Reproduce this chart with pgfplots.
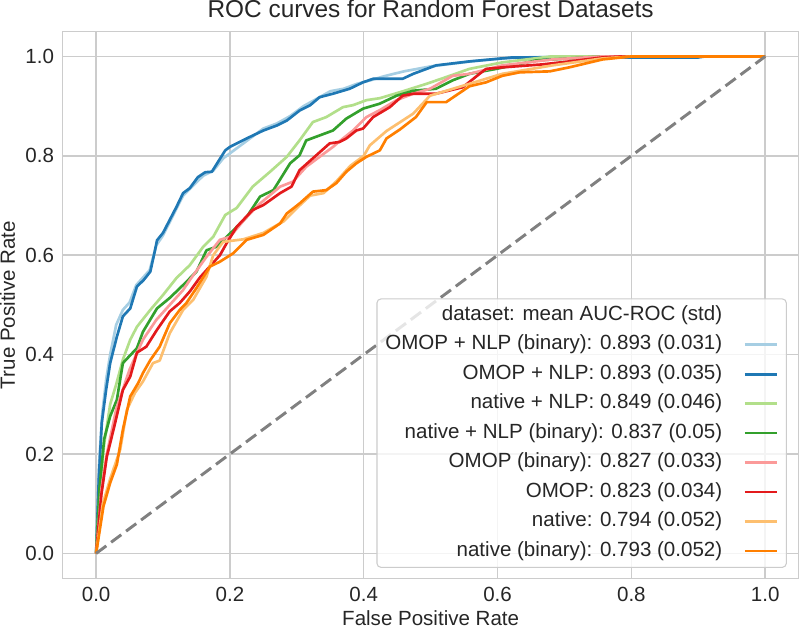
\documentclass[border=0pt]{standalone}
\usepackage{fontspec}
\setmainfont{Liberation Sans}
\usepackage{pgfplots}
\pgfplotsset{compat=1.18}

\definecolor{lblue}{HTML}{A6CEE3}
\definecolor{dblue}{HTML}{1F78B4}
\definecolor{lgreen}{HTML}{B2DF8A}
\definecolor{dgreen}{HTML}{33A02C}
\definecolor{lred}{HTML}{FB9A99}
\definecolor{dred}{HTML}{E31A1C}
\definecolor{lorange}{HTML}{FDBF6F}
\definecolor{dorange}{HTML}{FF7F00}
\definecolor{gridgray}{HTML}{CCCCCC}
\definecolor{txt}{HTML}{262626}

\newcommand{\fs}{\fontsize{15.4}{18}\selectfont}

\begin{document}
\begin{tikzpicture}
\useasboundingbox (-47pt,-37.3pt) rectangle (553pt,433.7pt);
\begin{axis}[
    at={(0,0)}, anchor=south west,
    scale only axis,
    width=552pt, height=410pt,
    xmin=-0.05, xmax=1.05,
    ymin=-0.05, ymax=1.05,
    xtick={0,0.2,0.4,0.6,0.8,1.0},
    ytick={0,0.2,0.4,0.6,0.8,1.0},
    /pgf/number format/assume math mode=true,
    /pgf/number format/.cd, fixed, fixed zerofill, precision=1,
    /pgfplots/.cd,
    grid=major,
    major grid style={draw=gridgray, line width=1.1pt},
    axis line style={draw=gridgray, line width=1.1pt},
    major tick length=0pt,
    tick label style={font=\fs, text=txt},
    xticklabel style={anchor=base, yshift=-17.5pt},
    yticklabel style={anchor=east, inner sep=0pt, xshift=-6.3pt},
    title={ROC curves for Random Forest Datasets},
    title style={at={(0.5,1)}, anchor=base, yshift=4.3pt, font=\fontsize{18.3}{22}\selectfont, text=txt},
    xlabel={False Positive Rate},
    ylabel={True Positive Rate},
    xlabel style={at={(axis description cs:0.5,0)}, anchor=base, yshift=-35.5pt, font=\fs, text=txt},
    ylabel style={at={(axis description cs:0,0.5)}, anchor=base, yshift=35.8pt, font=\fs, text=txt},
    legend plot pos=right,
    legend cell align=right,
    legend image code/.code={\draw[#1] (0pt,0pt) -- (23.8pt,0pt);},
    legend style={
        at={(0.984,0.019)}, anchor=south east,
        draw=gridgray, line width=0.8pt, rounded corners=3pt,
        fill=white, fill opacity=0.8, text opacity=1,
        font=\fs, text=txt,
        inner xsep=6.3pt, inner ysep=5pt,
        row sep=7.6pt, column sep=16pt,
        nodes={inner sep=0pt, text height=11pt, text depth=3.5pt},
    },
    every axis plot/.append style={line width=2pt, line join=round},
]
\addlegendimage{empty legend}
\addlegendentry{dataset: mean AUC-ROC (std)}

\addplot[lblue] coordinates {
(0,0)(0.004,0.17)(0.009,0.28)(0.015,0.35)(0.021,0.4)(0.03,0.46)(0.04,0.49)(0.05,0.505)(0.06,0.54)(0.07,0.555)(0.08,0.57)(0.09,0.62)(0.1,0.64)(0.115,0.68)(0.13,0.72)(0.145,0.74)(0.16,0.76)(0.175,0.77)(0.19,0.795)(0.2,0.805)(0.225,0.83)(0.25,0.855)(0.27,0.865)(0.29,0.88)(0.31,0.9)(0.33,0.915)(0.35,0.93)(0.37,0.935)(0.39,0.945)(0.41,0.952)(0.43,0.96)(0.46,0.97)(0.5,0.98)(0.53,0.985)(0.56,0.99)(0.6,0.995)(0.64,0.998)(0.7,1)(1,1)
};
\addlegendentry{OMOP + NLP (binary): 0.893 (0.031)}

\addplot[dblue] coordinates {
(0,0)(0.004,0.15)(0.0085,0.263)(0.015,0.33)(0.021,0.383)(0.031,0.436)(0.04,0.477)(0.051,0.493)(0.061,0.537)(0.071,0.55)(0.081,0.567)(0.088,0.61)(0.091,0.63)(0.1,0.645)(0.12,0.697)(0.13,0.725)(0.14,0.735)(0.152,0.757)(0.163,0.767)(0.173,0.768)(0.193,0.811)(0.2,0.818)(0.225,0.835)(0.25,0.851)(0.27,0.861)(0.285,0.871)(0.304,0.891)(0.32,0.902)(0.334,0.918)(0.354,0.925)(0.379,0.935)(0.399,0.948)(0.414,0.955)(0.458,0.955)(0.474,0.965)(0.494,0.975)(0.508,0.982)(0.533,0.986)(0.558,0.99)(0.622,0.998)(0.9,0.998)(0.91,1)(1,1)
};
\addlegendentry{OMOP + NLP: 0.893 (0.035)}

\addplot[lgreen] coordinates {
(0,0)(0.005,0.12)(0.012,0.22)(0.021,0.3)(0.03,0.34)(0.04,0.39)(0.051,0.43)(0.061,0.456)(0.081,0.49)(0.1,0.52)(0.12,0.554)(0.14,0.58)(0.16,0.617)(0.175,0.637)(0.193,0.681)(0.21,0.695)(0.234,0.738)(0.26,0.768)(0.285,0.798)(0.304,0.831)(0.324,0.868)(0.344,0.878)(0.369,0.898)(0.384,0.902)(0.404,0.912)(0.424,0.916)(0.454,0.928)(0.494,0.945)(0.52,0.957)(0.558,0.975)(0.607,0.988)(0.68,1)(1,1)
};
\addlegendentry{native + NLP: 0.849 (0.046)}

\addplot[dgreen] coordinates {
(0,0)(0.005,0.13)(0.012,0.23)(0.021,0.276)(0.031,0.309)(0.04,0.383)(0.061,0.413)(0.07,0.446)(0.091,0.493)(0.11,0.514)(0.13,0.54)(0.15,0.567)(0.165,0.61)(0.18,0.617)(0.205,0.65)(0.225,0.677)(0.245,0.718)(0.265,0.731)(0.29,0.785)(0.304,0.801)(0.314,0.831)(0.334,0.841)(0.354,0.851)(0.374,0.875)(0.399,0.895)(0.424,0.905)(0.449,0.921)(0.474,0.931)(0.508,0.935)(0.533,0.952)(0.558,0.965)(0.598,0.975)(0.658,0.992)(0.757,1)(1,1)
};
\addlegendentry{native + NLP (binary): 0.837 (0.05)}

\addplot[lred] coordinates {
(0,0)(0.008,0.13)(0.016,0.2)(0.03,0.29)(0.05,0.37)(0.07,0.43)(0.09,0.47)(0.11,0.5)(0.13,0.53)(0.14,0.55)(0.165,0.597)(0.185,0.631)(0.2,0.637)(0.225,0.677)(0.245,0.704)(0.275,0.738)(0.294,0.748)(0.314,0.778)(0.334,0.798)(0.354,0.818)(0.369,0.835)(0.384,0.851)(0.404,0.878)(0.424,0.892)(0.449,0.912)(0.474,0.925)(0.499,0.935)(0.533,0.961)(0.558,0.965)(0.607,0.982)(0.682,0.994)(0.757,1)(1,1)
};
\addlegendentry{OMOP (binary): 0.827 (0.033)}

\addplot[dred] coordinates {
(0,0)(0.008,0.12)(0.016,0.195)(0.026,0.249)(0.04,0.329)(0.051,0.356)(0.061,0.404)(0.075,0.416)(0.091,0.45)(0.11,0.487)(0.125,0.504)(0.14,0.527)(0.155,0.555)(0.165,0.57)(0.185,0.6)(0.195,0.624)(0.21,0.657)(0.234,0.691)(0.25,0.701)(0.275,0.725)(0.292,0.738)(0.304,0.771)(0.329,0.801)(0.349,0.825)(0.364,0.828)(0.374,0.835)(0.389,0.851)(0.399,0.855)(0.414,0.878)(0.439,0.898)(0.458,0.921)(0.474,0.925)(0.508,0.925)(0.548,0.938)(0.573,0.965)(0.583,0.975)(0.607,0.978)(0.667,0.984)(0.707,0.99)(0.757,0.998)(0.785,1)(1,1)
};
\addlegendentry{OMOP: 0.823 (0.034)}

\addplot[lorange] coordinates {
(0,0)(0.01,0.1)(0.021,0.15)(0.036,0.209)(0.046,0.289)(0.058,0.323)(0.07,0.346)(0.085,0.383)(0.095,0.388)(0.11,0.443)(0.13,0.49)(0.145,0.51)(0.165,0.557)(0.175,0.6)(0.19,0.627)(0.22,0.632)(0.25,0.645)(0.28,0.668)(0.3,0.695)(0.32,0.72)(0.34,0.725)(0.36,0.75)(0.38,0.78)(0.4,0.8)(0.409,0.821)(0.434,0.85)(0.474,0.885)(0.499,0.921)(0.558,0.945)(0.607,0.965)(0.682,0.982)(0.757,0.996)(0.8,1)(1,1)
};
\addlegendentry{native: 0.794 (0.052)}

\addplot[dorange] coordinates {
(0,0)(0.011,0.095)(0.021,0.142)(0.031,0.179)(0.04,0.249)(0.051,0.316)(0.063,0.343)(0.07,0.363)(0.081,0.389)(0.095,0.416)(0.11,0.463)(0.125,0.49)(0.135,0.504)(0.15,0.534)(0.17,0.577)(0.185,0.587)(0.205,0.604)(0.225,0.631)(0.25,0.641)(0.275,0.664)(0.285,0.684)(0.304,0.704)(0.324,0.728)(0.344,0.731)(0.359,0.745)(0.374,0.768)(0.389,0.785)(0.404,0.798)(0.424,0.811)(0.434,0.835)(0.454,0.853)(0.478,0.878)(0.494,0.908)(0.523,0.908)(0.558,0.94)(0.583,0.948)(0.607,0.961)(0.633,0.968)(0.678,0.97)(0.707,0.978)(0.757,0.994)(0.8,1)(1,1)
};
\addlegendentry{native (binary): 0.793 (0.052)}

\addplot[gray, line width=2.2pt, dash pattern=on 9.5pt off 4.5pt, forget plot] coordinates {(0,0) (1,1)};
\end{axis}
\end{tikzpicture}
\end{document}
